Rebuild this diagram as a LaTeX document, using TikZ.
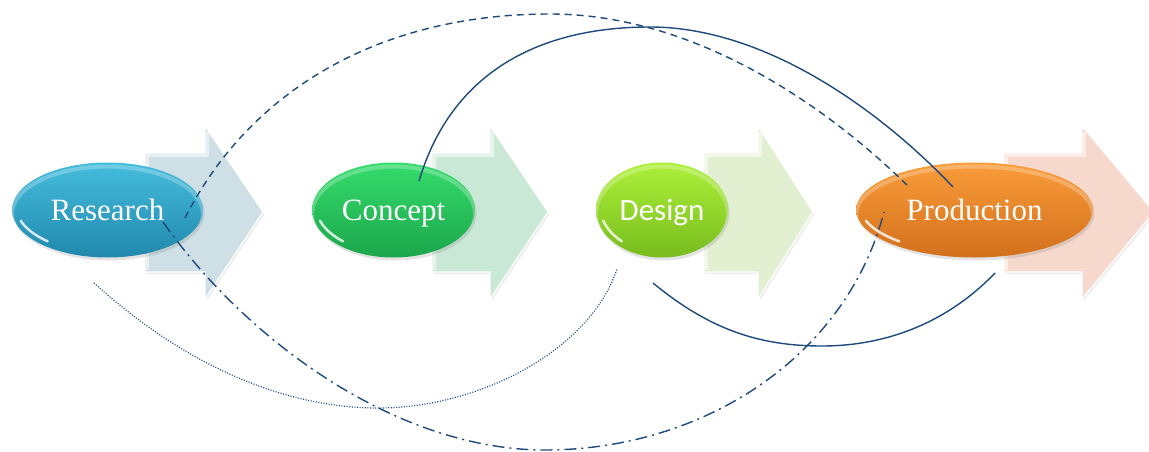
\documentclass[tikz,border=0pt]{standalone}
\usepackage{fontspec}
\setmainfont{Liberation Serif}
\newfontfamily\designfont{Carlito}
\usetikzlibrary{shapes.geometric,shadows,calc}
\definecolor{linkc}{HTML}{1F497D}
\definecolor{arR}{HTML}{CEDFE6}
\definecolor{arC}{HTML}{C9E8D6}
\definecolor{arD}{HTML}{E2EFD0}
\definecolor{arP}{HTML}{F6D9CC}
\definecolor{rT}{HTML}{45BDDD}\definecolor{rM}{HTML}{31A8CB}\definecolor{rB}{HTML}{2188AC}
\definecolor{cT}{HTML}{36DC6C}\definecolor{cM}{HTML}{25C65C}\definecolor{cB}{HTML}{1BA64C}
\definecolor{dT}{HTML}{ADF03A}\definecolor{dM}{HTML}{94DA2A}\definecolor{dB}{HTML}{78BC1E}
\definecolor{pT}{HTML}{FA9C3A}\definecolor{pM}{HTML}{F08A28}\definecolor{pB}{HTML}{D2701C}
\tikzset{
  pill/.style n args={3}{ellipse, draw=none, text=white, font=\fontsize{31}{31}\selectfont,
     inner sep=0pt, text height=22pt, text depth=2pt, minimum height=95pt,
     top color=#1, middle color=#2, bottom color=#3,
     drop shadow={opacity=0.22, shadow xshift=1.5pt, shadow yshift=-3pt},
     path picture={
       \draw[white, opacity=0.25, line width=4pt]
         let \p1=($(path picture bounding box.north east)-(path picture bounding box.center)$) in
         ($(path picture bounding box.center)+(0pt,-4pt)$) ellipse [x radius=\x1, y radius=\y1];
       \draw[white, opacity=0.8, line width=2.5pt, line cap=round]
         let \p1=($(path picture bounding box.north east)-(path picture bounding box.center)$) in
         ($(path picture bounding box.center)+(4pt,4pt)$) ++(198:\x1 and \y1)
         arc [start angle=198, end angle=228, x radius=\x1, y radius=\y1];
     }},
  blockarrow/.style={draw=white, line width=1.2pt, line join=miter,
     drop shadow={opacity=0.15, shadow xshift=1.5pt, shadow yshift=-2pt}},
  bevel/.style={draw=white, opacity=0.55, line width=3pt},
  link/.style={draw=linkc, line width=1.4pt},
  dashlink/.style={link, dash pattern=on 7pt off 5pt},
  dotlink/.style={draw=linkc, line width=1.2pt, dash pattern=on 1pt off 1.6pt},
  dashdotlink/.style={link, dash pattern=on 12pt off 5pt on 2pt off 5pt},
}
\newcommand{\blkarrow}[4]{%
  \path[blockarrow, fill=#4] (#1,153) -- (#2,153) -- (#2,126) -- (#3,212) -- (#2,299) -- (#2,272) -- (#1,272) -- cycle;
  \path[bevel] (#1+2,270) -- (#1+2,155.5) -- (#2+2,155.5) -- (#2+2,132);}
\begin{document}
\begin{tikzpicture}[x=1pt,y=-1pt]
\useasboundingbox (0,0) rectangle (1149,452);
% block arrows
\blkarrow{145}{205}{263}{arR}
\blkarrow{432}{490}{548}{arC}
\blkarrow{704}{758}{813}{arD}
\blkarrow{1004}{1082}{1154}{arP}
% pills
\node[pill={rT}{rM}{rB}, minimum width=191pt] (research) at (107.5,210) {Research};
\node[pill={cT}{cM}{cB}, minimum width=163pt] (concept) at (393.5,210) {Concept};
\node[pill={dT}{dM}{dB}, minimum width=132pt, font=\designfont\fontsize{31}{31}\selectfont] (design) at (662,210) {Design};
\node[pill={pT}{pM}{pB}, minimum width=237pt] (production) at (974.5,210) {Production};
% connector end points
\coordinate (dA) at (185,218);
\coordinate (dM) at (550,14);
\coordinate (dB) at (907,185);
\coordinate (sA) at (419,181);
\coordinate (sM) at (650,27);
\coordinate (sB) at (953,187);
\coordinate (cA) at (163,222);
\coordinate (cM) at (545,450);
\coordinate (cB) at (884,212);
\coordinate (oA) at (94,283);
\coordinate (oM) at (378,408);
\coordinate (oB) at (617,269);
\coordinate (lA) at (653,283);
\coordinate (lM) at (822,346);
\coordinate (lB) at (995,273);
% connectors
\draw[dashlink] (dA) .. controls (250,90) and (380,14) .. (dM) .. controls (690,14) and (820,100) .. (dB);
\draw[link] (sA) .. controls (452,70) and (542,27) .. (sM) .. controls (765,27) and (880,110) .. (sB);
\draw[dashdotlink] (cA) .. controls (250,345) and (400,450) .. (cM) .. controls (700,450) and (845,360) .. (cB);
\draw[dotlink] (oA) .. controls (190,370) and (290,408) .. (oM) .. controls (480,408) and (590,350) .. (oB);
\draw[link] (lA) .. controls (710,330) and (760,346) .. (lM) .. controls (890,346) and (950,320) .. (lB);
\end{tikzpicture}
\end{document}
